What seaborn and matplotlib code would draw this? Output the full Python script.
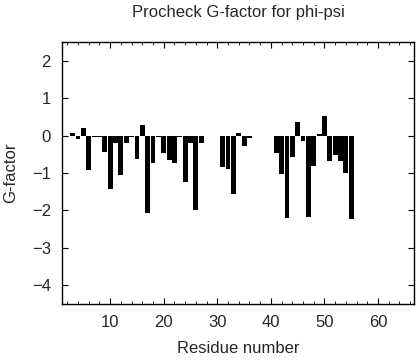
import matplotlib
matplotlib.use("Agg")
import matplotlib.pyplot as plt
from matplotlib.ticker import MultipleLocator
import seaborn as sns

residues = [3, 4, 5, 6, 7, 8, 9, 10, 11, 12, 13, 14, 15, 16, 17, 18, 19,
            20, 21, 22, 23, 24, 25, 26, 27, 31, 32, 33, 34, 35, 36,
            41, 42, 43, 44, 45, 46, 47, 48, 49, 50, 51, 52, 53, 54, 55]
gfactor = [0.08, -0.10, 0.19, -0.93, -0.03, -0.03, -0.45, -1.44, -0.19, -1.05,
           -0.21, -0.03, -0.63, 0.27, -2.07, -0.74, -0.03,
           -0.47, -0.65, -0.72, -0.05, -1.23, -0.20, -1.98, -0.20,
           -0.84, -0.90, -1.57, 0.06, -0.28, -0.06,
           -0.47, -1.03, -2.21, -0.57, 0.37, -0.15, -2.19, -0.82, 0.03,
           0.53, -0.68, -0.53, -0.68, -1.00, -2.23]

sns.set_style("ticks")
plt.rcParams['font.family'] = ['Liberation Sans', 'DejaVu Sans']

fig = plt.figure(figsize=(4.16, 3.6), dpi=100)
ax = fig.add_axes([0.149, 0.156, 0.846, 0.727])

sns.barplot(x=residues, y=gfactor, native_scale=True, color='black',
            width=0.9, linewidth=0, saturation=1, ax=ax)

ax.set_xlim(1, 66.7)
ax.set_ylim(-4.5, 2.5)
ax.xaxis.set_major_locator(MultipleLocator(10))
ax.xaxis.set_minor_locator(MultipleLocator(2))
ax.yaxis.set_major_locator(MultipleLocator(1))
ax.tick_params(which='both', direction='in', top=True, right=True,
               labelsize=12, color='black', pad=8)
ax.tick_params(which='major', length=4)
ax.tick_params(which='minor', length=2)
for s in ax.spines.values():
    s.set_visible(True)
    s.set_linewidth(1)
    s.set_color('black')

ax.set_xlabel('Residue number', fontsize=12, labelpad=8)
ax.set_ylabel('G-factor', fontsize=12, labelpad=10)
ax.set_title('Procheck G-factor for phi-psi', fontsize=12, pad=18)

fig.savefig('out.png', dpi=100)
